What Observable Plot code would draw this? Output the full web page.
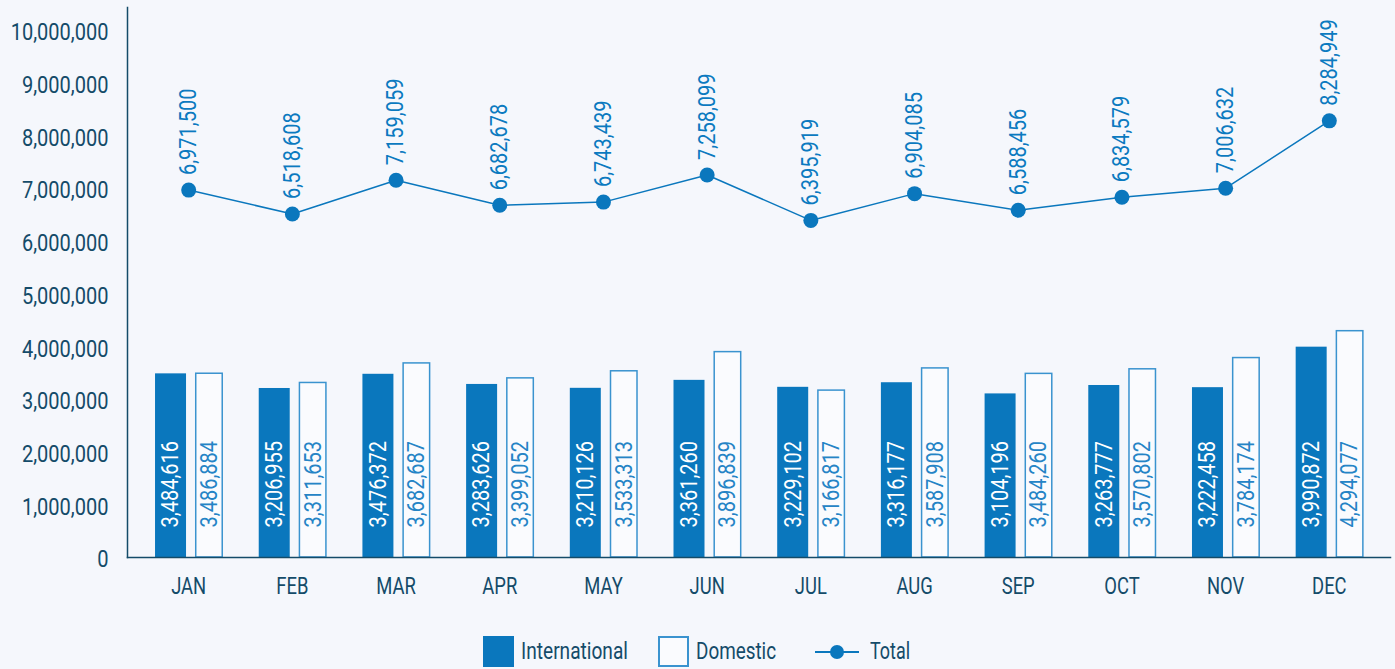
<!DOCTYPE html>
<html>
<head>
<meta charset="utf-8">
<script src="https://cdn.jsdelivr.net/npm/d3@7"></script>
<script src="https://cdn.jsdelivr.net/npm/@observablehq/plot@0.6"></script>
<style>
  html, body { margin: 0; padding: 0; background: #f5f7fc; }
  body { width: 1395px; height: 669px; overflow: hidden; font-family: Roboto, sans-serif; position: relative; }
  #chart svg { display: block; }
  #legend { position: absolute; left: 0; top: 625px; width: 1395px; height: 44px; color: #144b69; font-size: 23px; }
  .abs { position: absolute; }
  .sw { width: 31px; height: 31px; box-sizing: border-box; top: 11px; }
  .intl { background: #0a77bd; }
  .dom { background: #fafbfe; border: 2px solid #3a93cf; }
  .lbl { top: 13px; line-height: 27px; white-space: nowrap; transform-origin: 0 50%; }
  .totline { top: 26px; height: 2px; background: #0a77bd; }
  .totdot { width: 14px; height: 14px; border-radius: 50%; background: #0a77bd; top: 20px; }
</style>
</head>
<body>
<div id="chart"></div>
<div id="legend">
  <div class="abs sw intl" style="left:483px"></div>
  <span class="abs lbl" data-w="107" style="left:521px">International</span>
  <div class="abs sw dom" style="left:658px"></div>
  <span class="abs lbl" data-w="80" style="left:696px">Domestic</span>
  <div class="abs totline" style="left:815px;width:44px"></div>
  <div class="abs totdot" style="left:830px"></div>
  <span class="abs lbl" data-w="40" style="left:870px">Total</span>
</div>
<script>
const months = ["JAN","FEB","MAR","APR","MAY","JUN","JUL","AUG","SEP","OCT","NOV","DEC"];
const international = [3484616,3206955,3476372,3283626,3210126,3361260,3229102,3316177,3104196,3263777,3222458,3990872];
const domestic = [3486884,3311653,3682687,3399052,3533313,3896839,3166817,3587908,3484260,3570802,3784174,4294077];
const total = [6971500,6518608,7159059,6682678,6743439,7258099,6395919,6904085,6588456,6834579,7006632,8284949];
const yTicks = [0,1000000,2000000,3000000,4000000,5000000,6000000,7000000,8000000,9000000,10000000];

const rows = months.map((m, i) => ({month: m, intl: international[i], dom: domestic[i], total: total[i]}));
const fmt = d3.format(",");
const axisColor = "#144b69";
const blue = "#0a77bd";

const chart = Plot.plot({
  width: 1395,
  height: 625,
  marginLeft: 127,
  marginRight: 5,
  marginTop: 7,
  marginBottom: 68,
  style: {background: "#f5f7fc", fontFamily: "Roboto, sans-serif", fontSize: "22px", color: axisColor, overflow: "visible"},
  x: {domain: months, paddingInner: 0, paddingOuter: 0.09, round: false, label: null},
  y: {domain: [0, 10436000], label: null},
  marks: [
    Plot.barY(rows, {x: "month", y: "intl", fill: blue, insetLeft: 18.7, insetRight: 54}),
    Plot.barY(rows, {x: "month", y: "dom", fill: "#fafbfe", stroke: "#3a93cf", strokeWidth: 1.5, insetLeft: 59.4, insetRight: 17.8}),
    Plot.text(rows, {x: "month", y: 0, text: d => fmt(d.intl), rotate: -90, textAnchor: "start", dx: -17.7, dy: -30, fill: "white", fontSize: 23, className: "cond"}),
    Plot.text(rows, {x: "month", y: 0, text: d => fmt(d.dom), rotate: -90, textAnchor: "start", dx: 20.8, dy: -30, fill: "#2584c6", fontSize: 23, className: "cond"}),
    Plot.line(rows, {x: "month", y: "total", stroke: blue, strokeWidth: 1.5}),
    Plot.dot(rows, {x: "month", y: "total", r: 7.5, fill: blue}),
    Plot.text(rows, {x: "month", y: "total", text: d => fmt(d.total), rotate: -90, textAnchor: "start", dy: -15, fill: "#0b7ac0", fontSize: 23, className: "cond"}),
    Plot.axisY({ticks: yTicks, tickSize: 0, tickPadding: 19, tickFormat: d => fmt(d), dy: 2.5, fontSize: 23, fill: axisColor, className: "cond"}),
    Plot.axisX({tickSize: 0, tickPadding: 20, fontSize: 23, fill: axisColor, className: "condx"}),
    Plot.frame({anchor: "left", stroke: axisColor, strokeWidth: 1.5}),
    Plot.frame({anchor: "bottom", stroke: axisColor, strokeWidth: 1.5})
  ]
});
document.getElementById("chart").appendChild(chart);

// emulate the condensed typeface of the original by narrowing glyphs
function condense(sel, k) {
  chart.querySelectorAll(sel).forEach(t => {
    const w = t.getComputedTextLength();
    if (w > 0) { t.setAttribute("textLength", (w * k).toFixed(1)); t.setAttribute("lengthAdjust", "spacingAndGlyphs"); }
  });
}
condense("g[aria-label] .cond text, .cond text", 0.87);
condense(".condx text", 0.8);
document.querySelectorAll("#legend .lbl").forEach(s => {
  const w = s.getBoundingClientRect().width;
  s.style.transform = `scaleX(${(+s.dataset.w / w).toFixed(3)})`;
});
</script>
</body>
</html>
